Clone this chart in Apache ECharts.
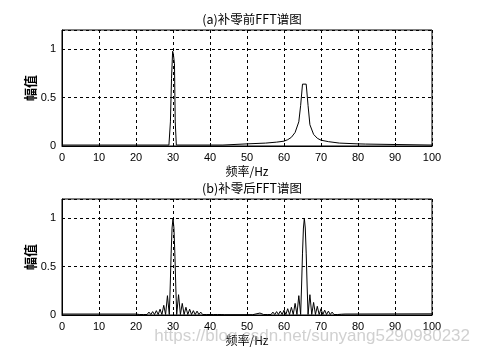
<!DOCTYPE html>
<html><head><meta charset="utf-8">
<script src="https://cdn.jsdelivr.net/npm/echarts@6/dist/echarts.min.js"></script>
<style>html,body{margin:0;padding:0;background:#fff}#c{width:478px;height:358px}</style>
</head><body><div id="c"></div>
<script>
var titles = ['(a)补零前FFT谱图', '(b)补零后FFT谱图'];
var xName = '频率/Hz';
var yName = '幅值';
var watermark = 'https://blog.csdn.net/sunyang5290980232';

var topFreq = [0, 28.9, 29.3, 29.6, 29.9, 30.1, 30.4, 30.6, 30.9, 43.5, 44, 50, 55, 58, 60, 61, 62, 63, 64, 64.5, 65, 66, 66.5, 67, 68, 69, 70, 72, 75, 80, 82, 82.2, 100];
var topAmp  = [0.01, 0.01, 0.25, 0.7, 0.98, 0.95, 0.85, 0.25, 0.01, 0.01, 0.018, 0.022, 0.03, 0.04, 0.05, 0.065, 0.09, 0.14, 0.25, 0.42, 0.64, 0.64, 0.42, 0.22, 0.12, 0.08, 0.06, 0.045, 0.03, 0.022, 0.02, 0.01, 0.01];

var botFreq = [0, 20, 20.5, 21, 21.5, 22, 22.5, 23, 23.5, 24, 24.5, 25, 25.5, 26, 26.5, 27, 27.5, 28, 28.5, 29, 29.25, 29.5, 29.75, 30, 30.25, 30.5, 30.75, 31, 31.5, 32, 32.5, 33, 33.5, 34, 34.5, 35, 35.5, 36, 36.5, 37, 37.5, 38, 38.5, 39, 39.5, 40, 40.5, 41, 41.5, 42, 42.5, 43, 43.5, 44,
  51.5, 51.7, 53.5, 54, 54.5, 55, 55.5, 56, 56.5, 57, 57.5, 58, 58.5, 59, 59.5, 60, 60.5, 61, 61.5, 62, 62.5, 63, 63.5, 64, 64.5, 64.75, 65, 65.25, 65.5, 65.75, 66, 66.25, 66.5, 67, 67.5, 68, 68.5, 69, 69.5, 70, 70.5, 71, 71.5, 72, 72.5, 73, 73.5, 74, 74.5, 75, 75.5, 76, 76.5, 77, 100];
var botAmp = [0.01, 0.01, 0.02, 0.005, 0.02, 0.005, 0.025, 0.005, 0.03, 0.005, 0.035, 0.005, 0.045, 0.005, 0.06, 0.005, 0.1, 0.005, 0.2, 0.005, 0.3, 0.64, 0.9, 1.0, 0.9, 0.64, 0.3, 0.005, 0.21, 0.005, 0.12, 0.005, 0.08, 0.005, 0.06, 0.005, 0.045, 0.005, 0.04, 0.005, 0.03, 0.005, 0.025, 0.005, 0.02, 0.005, 0.015, 0.005, 0.015, 0.005, 0.01, 0.005, 0.01, 0.003,
  0.003, 0.02, 0.02, 0.02, 0.005, 0.02, 0.005, 0.025, 0.005, 0.03, 0.005, 0.035, 0.005, 0.04, 0.005, 0.05, 0.005, 0.065, 0.005, 0.08, 0.005, 0.12, 0.005, 0.2, 0.005, 0.3, 0.64, 0.9, 1.0, 0.9, 0.64, 0.3, 0.005, 0.21, 0.005, 0.13, 0.005, 0.09, 0.005, 0.065, 0.005, 0.05, 0.005, 0.04, 0.005, 0.03, 0.005, 0.025, 0.005, 0.02, 0.008, 0.015, 0.01, 0.012, 0.012];

var xTicks = {min: 0, max: 100, interval: 10};
var yTicks = {min: 0, max: 1.2, interval: 0.5};

function pairs(xs, ys) { return xs.map(function (x, i) { return [x, ys[i]]; }); }

var font = 'Liberation Sans, Arial, sans-serif';
var cjk = '"Noto Sans CJK SC", sans-serif';
var grids = [
  {left: 62, right: 46, top: 30, height: 116},
  {left: 62, right: 46, top: 199, height: 116}
];
grids.forEach(function (g) { g.show = true; g.borderColor = '#000'; g.borderWidth = 1; g.backgroundColor = '#fff'; });

function xAxis(i) {
  return {
    gridIndex: i, type: 'value', min: xTicks.min, max: xTicks.max, interval: xTicks.interval,
    name: xName, nameLocation: 'middle', nameGap: 19, nameMoveOverlap: false,
    nameTextStyle: {fontFamily: cjk, fontSize: 12, color: '#000'},
    axisLine: {lineStyle: {color: '#000', width: 1}},
    axisTick: {inside: true, length: 3, lineStyle: {color: '#000'}},
    axisLabel: {color: '#000', fontFamily: font, fontSize: 11, margin: 6},
    splitLine: {show: true, lineStyle: {color: '#000', type: [3, 3], width: 1}}
  };
}
function yAxis(i) {
  return {
    gridIndex: i, type: 'value', min: yTicks.min, max: yTicks.max, interval: yTicks.interval,
    name: yName, nameLocation: 'middle', nameGap: 25, nameRotate: 90, nameMoveOverlap: false,
    nameTextStyle: {fontFamily: cjk, fontSize: 13, fontWeight: 'bold', color: '#000'},
    axisLine: {lineStyle: {color: '#000', width: 1}},
    axisTick: {inside: true, length: 3, lineStyle: {color: '#000'}},
    axisLabel: {color: '#000', fontFamily: font, fontSize: 11, margin: 6, showMaxLabel: false},
    splitLine: {show: true, lineStyle: {color: '#000', type: [3, 3], width: 1}}
  };
}

var chart = echarts.init(document.getElementById('c'), null, {renderer: 'canvas'});
chart.setOption({
  animation: false,
  backgroundColor: '#fff',
  title: [
    {text: titles[0], left: 247, top: 8, textAlign: 'center', textStyle: {fontFamily: cjk, fontSize: 12.5, fontWeight: 'normal', color: '#000'}},
    {text: titles[1], left: 247, top: 177, textAlign: 'center', textStyle: {fontFamily: cjk, fontSize: 12.5, fontWeight: 'normal', color: '#000'}}
  ],
  grid: grids,
  xAxis: [xAxis(0), xAxis(1)],
  yAxis: [yAxis(0), yAxis(1)],
  series: [
    {type: 'line', xAxisIndex: 0, yAxisIndex: 0, data: pairs(topFreq, topAmp), showSymbol: false, lineStyle: {color: '#000', width: 1}, itemStyle: {color: '#000'}, z: 5},
    {type: 'line', xAxisIndex: 1, yAxisIndex: 1, data: pairs(botFreq, botAmp), showSymbol: false, lineStyle: {color: '#000', width: 1}, itemStyle: {color: '#000'}, z: 5}
  ],
  graphic: [
    {type: 'text', right: 8, top: 328, z: 100, style: {text: watermark, fontFamily: font, fontSize: 17, fill: 'rgba(170,170,170,0.55)'}}
  ]
});
</script></body></html>
